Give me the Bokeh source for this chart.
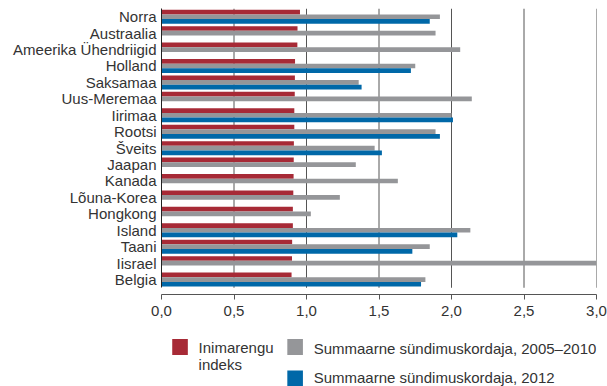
from bokeh.plotting import figure
from bokeh.models import Range1d, FixedTicker, ColumnDataSource
from bokeh.layouts import column
from bokeh.transform import dodge
from bokeh.embed import file_html
from bokeh.resources import INLINE
from bokeh.core.properties import value

NaN = float("nan")

# ---- data ----
countries = ["Norra", "Austraalia", "Ameerika Ühendriigid", "Holland", "Saksamaa",
             "Uus-Meremaa", "Iirimaa", "Rootsi", "Šveits", "Jaapan", "Kanada",
             "Lõuna-Korea", "Hongkong", "Island", "Taani", "Iisrael", "Belgia"]
inimarengu_indeks = [0.955, 0.938, 0.937, 0.921, 0.920, 0.919, 0.916, 0.916, 0.913,
                     0.912, 0.911, 0.909, 0.906, 0.906, 0.901, 0.900, 0.897]
sundimus_2005_2010 = [1.92, 1.89, 2.06, 1.75, 1.36, 2.14, 2.00, 1.89, 1.47,
                      1.34, 1.63, 1.23, 1.03, 2.13, 1.85, 3.00, 1.82]
sundimus_2012 = [1.85, NaN, NaN, 1.72, 1.38, NaN, 2.01, 1.92, 1.52,
                 NaN, NaN, NaN, NaN, 2.04, 1.73, NaN, 1.79]
x_ticks = [0.0, 0.5, 1.0, 1.5, 2.0, 2.5, 3.0]
x_tick_labels = ["0,0", "0,5", "1,0", "1,5", "2,0", "2,5", "3,0"]
legend_labels = ["Inimarengu\nindeks", "Summaarne sündimuskordaja, 2005–2010",
                 "Summaarne sündimuskordaja, 2012"]

RED = "#a72a36"
GRAY = "#959699"
BLUE = "#0068a8"
TXT = "#333333"
FONT = "Liberation Sans"
FS = "15px"

W = 607
LEFT, RIGHT = 161, 596

pos = list(range(len(countries)))
src = ColumnDataSource(dict(pos=pos, hdi=inimarengu_indeks,
                            t1=sundimus_2005_2010, t2=sundimus_2012))

n = len(countries)
p = figure(width=W, height=330, x_range=Range1d(0, 3.0),
           y_range=Range1d(n - 0.5 + 0.41, -0.5),
           output_backend="svg", toolbar_location=None,
           min_border_left=LEFT, min_border_right=W - RIGHT, min_border_top=8,
           min_border_bottom=36)
p.outline_line_color = None
p.xgrid.visible = False
p.ygrid.visible = False

# gridlines (behind bars)
p.segment(x0=x_ticks[1:], y0=-0.5, x1=x_ticks[1:], y1=n - 0.5,
          line_color="#555555", line_width=1)

bh = 0.284
p.hbar(y=dodge("pos", -bh, range=p.y_range), left=0, right="hdi", height=bh,
       source=src, fill_color=RED, line_color=None)
p.hbar(y="pos", left=0, right="t1", height=bh,
       source=src, fill_color=GRAY, line_color=None)
p.hbar(y=dodge("pos", bh, range=p.y_range), left=0, right="t2", height=bh,
       source=src, fill_color=BLUE, line_color=None)

# y axis
ya = p.yaxis[0]
ya.ticker = FixedTicker(ticks=pos)
ya.major_label_overrides = {i: c for i, c in zip(pos, countries)}
ya.bounds = (-0.5, n - 0.5)
ya.axis_line_color = "#222222"
ya.major_tick_out = 0
ya.major_tick_in = 0
ya.minor_tick_out = 0
ya.minor_tick_in = 0
ya.major_label_standoff = 5
ya.major_label_text_font = FONT
ya.major_label_text_font_size = FS
ya.major_label_text_color = TXT

# x axis
xa = p.xaxis[0]
xa.ticker = FixedTicker(ticks=x_ticks)
xa.major_label_overrides = {t: l for t, l in zip(x_ticks, x_tick_labels)}
xa.axis_line_color = "#555555"
xa.major_tick_line_color = "#555555"
xa.major_tick_out = 5
xa.major_tick_in = 0
xa.minor_tick_out = 0
xa.minor_tick_in = 0
xa.major_label_standoff = 6
xa.major_label_text_font = FONT
xa.major_label_text_font_size = FS
xa.major_label_text_color = TXT

# legend panel (x in page pixels, y in pixels from the panel top)
lh = 56
pl = figure(width=W, height=lh, x_range=Range1d(LEFT, W), y_range=Range1d(lh, 0),
            output_backend="svg", toolbar_location=None,
            min_border_left=LEFT, min_border_right=0,
            min_border_top=0, min_border_bottom=0,
            x_axis_type=None, y_axis_type=None)
pl.outline_line_color = None
pl.xgrid.visible = False
pl.ygrid.visible = False
sw_x = [180, 298, 298]
sw_y = [16.5, 16.5, 48]
pl.rect(x=sw_x, y=sw_y, width=16, height=16, fill_color=[RED, GRAY, BLUE], line_color=None)
lab_x = [x + 19 for x in sw_x]
lab_y = [16.5 + 1.5, 16.5 + 1.5, 46.5]
lab_y[0] = sw_y[0] + 9
pl.text(x=lab_x, y=lab_y, text=legend_labels, text_font=value(FONT),
        text_font_size=FS, text_color=TXT, text_baseline="middle",
        text_line_height=1.05)

layout = column(p, pl, spacing=0)
open("out.html", "w").write(file_html(layout, INLINE))
